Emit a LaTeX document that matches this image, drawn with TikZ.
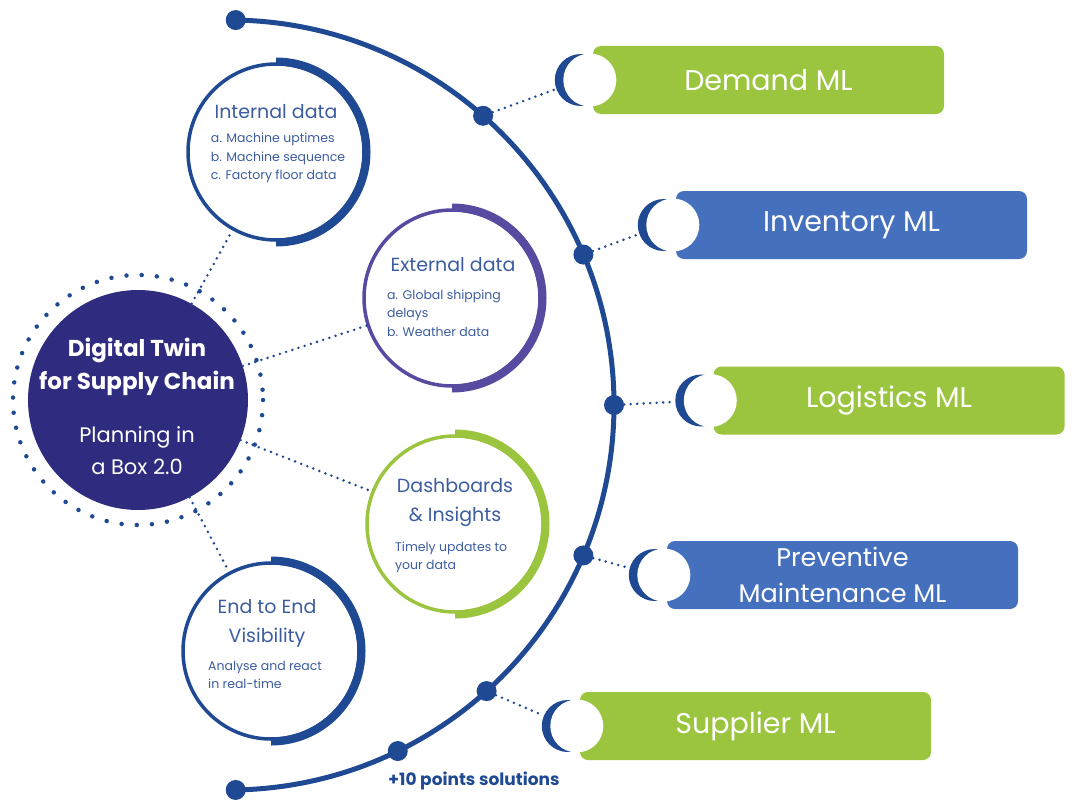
\documentclass[tikz,border=0pt]{standalone}
\usepackage{fontspec}
\setmainfont{Poppins}
\usepackage{tikz}
\definecolor{arcblue}{HTML}{1F4A93}
\definecolor{boxblue}{HTML}{4570BE}
\definecolor{mlgreen}{HTML}{9CC53F}
\definecolor{extpurple}{HTML}{574BA1}
\definecolor{twinnavy}{HTML}{2F2C80}
\definecolor{txtblue}{HTML}{3B5CA0}
\tikzset{
  arcdot/.style={circle,fill=arcblue,inner sep=0,minimum size=20},
  dotline/.style={draw=arcblue,line width=2.8,line cap=round,dash pattern=on 0pt off 6.5pt},
  ring/.style={circle,draw=#1,line width=3.5,minimum size=176,inner sep=0},
  ringtitle/.style={text=txtblue,align=center,inner sep=0,font=\fontsize{19}{29}\selectfont},
  ringlist/.style={text=txtblue,align=left,inner sep=0,font=\fontsize{12.5}{18.5}\selectfont},
  mlbox/.style={rectangle,rounded corners=8,minimum width=351,minimum height=68,inner sep=0,
    text=white,align=center,font=\fontsize{28.5}{36}\selectfont},
  moonback/.style={circle,fill=arcblue,minimum size=52,inner sep=0},
  moonface/.style={circle,fill=white,minimum size=53,inner sep=0}
}
\begin{document}
\begin{tikzpicture}[x=1pt,y=-1pt]
\useasboundingbox (0,0) rectangle (1075,800);
%Большая дуга
\draw[arcblue,line width=5] (229,405) ++(-89:385) arc[start angle=-89,end angle=89,radius=385];
\node[arcdot] (top) at ([shift={(-89:385)}]229,405) {};
\node[arcdot] (d1) at ([shift={(-48.7:385)}]229,405) {};
\node[arcdot] (d2) at ([shift={(-23:385)}]229,405) {};
\node[arcdot] (d3) at ([shift={(0:385)}]229,405) {};
\node[arcdot] (d4) at ([shift={(23:385)}]229,405) {};
\node[arcdot] (d5) at ([shift={(48:385)}]229,405) {};
\node[arcdot] (d6) at ([shift={(64:385)}]229,405) {};
\node[arcdot] (bottom) at ([shift={(89:385)}]229,405) {};
\node[text=arcblue,font=\fontsize{17}{20}\bfseries] (more) at (474,781) {+10 points solutions};
%Модели ML
\node[mlbox,fill=mlgreen] (demand) at (768.5,80) {Demand ML};
\node[mlbox,fill=boxblue] (inventory) at (851.5,225) {Inventory ML};
\node[mlbox,fill=mlgreen] (logistics) at (889,400.5) {Logistics ML};
\node[mlbox,fill=boxblue,font=\fontsize{25.5}{36}\selectfont] (preventive) at (842.5,575) {Preventive\\Maintenance ML};
\node[mlbox,fill=mlgreen] (supplier) at (755.5,726) {Supplier ML};
\node[moonback] (mdemand) at ([xshift=-12pt]demand.west) {};
\node[moonface] (fdemand) at ([xshift=-3pt]demand.west) {};
\node[moonback] (minventory) at ([xshift=-12pt]inventory.west) {};
\node[moonface] (finventory) at ([xshift=-3pt]inventory.west) {};
\node[moonback] (mlogistics) at ([xshift=-12pt]logistics.west) {};
\node[moonface] (flogistics) at ([xshift=-3pt]logistics.west) {};
\node[moonback] (mpreventive) at ([xshift=-12pt]preventive.west) {};
\node[moonface] (fpreventive) at ([xshift=-3pt]preventive.west) {};
\node[moonback] (msupplier) at ([xshift=-12pt]supplier.west) {};
\node[moonface] (fsupplier) at ([xshift=-3pt]supplier.west) {};
\draw[dotline] (d1) -- (mdemand);
\draw[dotline] (d2) -- (minventory);
\draw[dotline] (d3) -- (mlogistics);
\draw[dotline] (d4) -- (mpreventive);
\draw[dotline] (d5) -- (msupplier);
%Центральный круг
\node[circle,fill=twinnavy,minimum size=220,inner sep=0] (twin) at (138,400) {};
\draw[arcblue,line width=4.5,line cap=round,dash pattern=on 0pt off 15.2pt] (twin.center) circle[radius=125];
\node[text=white,align=center,font=\fontsize{23}{33}\bfseries] (twintitle) at (137,366.5) {Digital Twin\\for Supply Chain};
\node[text=white,align=center,font=\fontsize{21}{32}\selectfont] (twinsub) at (137,451) {Planning in\\a Box 2.0};
%Круги с данными
\node[ring=arcblue] (internal) at (276,152) {};
\node[ring=extpurple] (external) at (452,298) {};
\node[ring=mlgreen] (dashboards) at (455,524) {};
\node[ring=arcblue] (visibility) at (271,651) {};
\draw[arcblue,line width=8] ([shift={(-90:90.5)}]internal.center) arc[start angle=-90,end angle=90,radius=90.5];
\draw[extpurple,line width=8] ([shift={(-90:90.5)}]external.center) arc[start angle=-90,end angle=90,radius=90.5];
\draw[mlgreen,line width=8] ([shift={(-90:90.5)}]dashboards.center) arc[start angle=-90,end angle=90,radius=90.5];
\draw[arcblue,line width=8] ([shift={(-90:90.5)}]visibility.center) arc[start angle=-90,end angle=90,radius=90.5];
\draw[dotline] (twin) -- (internal);
\draw[dotline] (twin) -- (external);
\draw[dotline] (twin) -- (dashboards);
\draw[dotline] (twin) -- (visibility);
%Подписи
\node[ringtitle] (inttitle) at (276,112) {Internal data};
\node[ringlist] (intlist) at (278,158) {a. Machine uptimes\\b. Machine sequence\\c. Factory floor data};
\node[ringtitle] (exttitle) at (453,265) {External data};
\node[ringlist,anchor=west] (extlist) at (387,313) {a. Global shipping\\delays\\b. Weather data};
\node[ringtitle] (dashtitle) at (455,502.5) {Dashboards\\\& Insights};
\node[ringlist,anchor=west] (dashlist) at (395,557.5) {Timely updates to\\your data};
\node[ringtitle] (vistitle) at (267,623) {End to End\\Visibility};
\node[ringlist,anchor=west] (vislist) at (208,675) {Analyse and react\\in real-time};
\end{tikzpicture}
\end{document}
